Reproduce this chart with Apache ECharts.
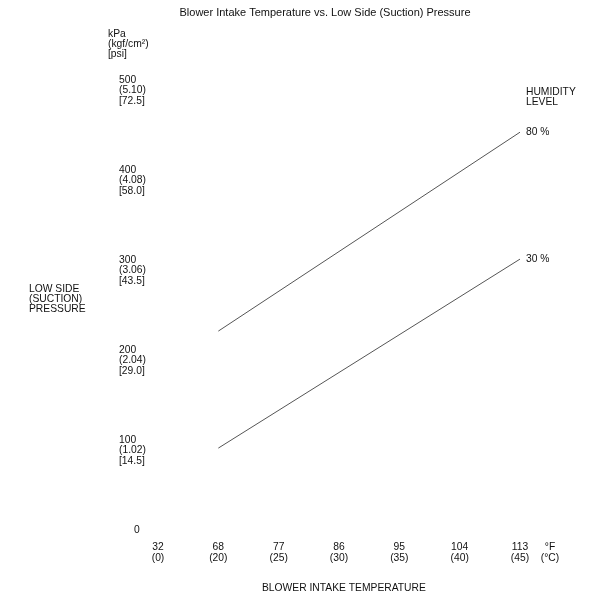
<!DOCTYPE html>
<html>
<head>
<meta charset="utf-8">
<script src="https://cdn.jsdelivr.net/npm/echarts@6/dist/echarts.min.js"></script>
<style>
  html, body { margin: 0; padding: 0; background: #fff; }
  #chart { width: 600px; height: 612px; }
</style>
</head>
<body>
<div id="chart"></div>
<script>
// 横轴：进气温度 °F / °C
var tempF = ["32", "68", "77", "86", "95", "104", "113"];
var tempC = ["0", "20", "25", "30", "35", "40", "45"];
// 纵轴刻度：kPa / kgf/cm² / psi
var kpaTicks = [0, 100, 200, 300, 400, 500];
var kgfTicks = ["", "1.02", "2.04", "3.06", "4.08", "5.10"];
var psiTicks = ["", "14.5", "29.0", "43.5", "58.0", "72.5"];
// 湿度线 (端点读取自原图)
var humidity80 = [null, 221, null, null, null, null, 442];
var humidity30 = [null, 91, null, null, null, null, 301];

var FONT = "Liberation Sans, Arial, sans-serif";
var TXT = "#111";
var FS = 10.3;

var chart = echarts.init(document.getElementById("chart"));

function lineSeries(name, data, label) {
  return {
    name: name,
    type: "line",
    data: data,
    connectNulls: true,
    showSymbol: false,
    symbol: "none",
    silent: true,
    animation: false,
    lineStyle: { color: "#555", width: 1 },
    endLabel: {
      show: true,
      formatter: label,
      distance: 6,
      color: TXT,
      fontSize: FS,
      fontFamily: FONT,
    },
  };
}

var option = {
  animation: false,
  title: {
    text: "Blower Intake Temperature vs. Low Side (Suction) Pressure",
    left: 320,
    textAlign: "center",
    top: 2,
    textStyle: { fontSize: 11, fontWeight: "normal", color: TXT, fontFamily: FONT },
  },
  grid: { left: 158, right: 80, top: 80, bottom: 82 },
  xAxis: {
    type: "category",
    data: tempF,
    boundaryGap: false,
    axisLine: { show: false },
    axisTick: { show: false },
    splitLine: { show: false },
    axisLabel: {
      margin: 12,
      color: TXT,
      fontSize: FS,
      lineHeight: 11,
      fontFamily: FONT,
      formatter: function (v, i) {
        return v + "\n(" + tempC[i] + ")";
      },
    },
  },
  yAxis: {
    type: "value",
    min: 0,
    max: 500,
    interval: 100,
    axisLine: { show: false },
    axisTick: { show: false },
    splitLine: { show: false },
    axisLabel: {
      margin: 39,
      align: "left",
      color: TXT,
      fontSize: FS,
      lineHeight: 10.5,
      fontFamily: FONT,
      formatter: function (v) {
        var i = kpaTicks.indexOf(v);
        if (v === 0) return "{z|0}";
        return "\n\n" + v + "\n(" + kgfTicks[i] + ")\n[" + psiTicks[i] + "]";
      },
      rich: {
        z: { padding: [0, 0, 0, 15], fontSize: FS, color: TXT, fontFamily: FONT },
      },
    },
  },
  graphic: [
    {
      type: "text",
      left: 108,
      top: 29,
      style: { text: "kPa\n(kgf/cm²)\n[psi]", fill: TXT, font: FS + "px " + FONT, lineHeight: 10 },
    },
    {
      type: "text",
      left: 29,
      top: 284,
      style: {
        text: "LOW SIDE\n(SUCTION)\nPRESSURE",
        fill: TXT,
        font: FS + "px " + FONT,
        lineHeight: 10,
      },
    },
    {
      type: "text",
      left: 526,
      top: 87,
      style: { text: "HUMIDITY\nLEVEL", fill: TXT, font: FS + "px " + FONT, lineHeight: 10 },
    },
    {
      type: "text",
      x: 550,
      y: 542,
      style: {
        text: "°F\n(°C)",
        fill: TXT,
        font: FS + "px " + FONT,
        lineHeight: 11,
        align: "center",
        verticalAlign: "top",
      },
    },
    {
      type: "text",
      left: 262,
      top: 583,
      style: { text: "BLOWER INTAKE TEMPERATURE", fill: TXT, font: FS + "px " + FONT },
    },
  ],
  series: [
    lineSeries("80 %", humidity80, "80 %"),
    lineSeries("30 %", humidity30, "30 %"),
  ],
};

chart.setOption(option);
window.addEventListener("resize", function () {
  chart.resize();
});
</script>
</body>
</html>
